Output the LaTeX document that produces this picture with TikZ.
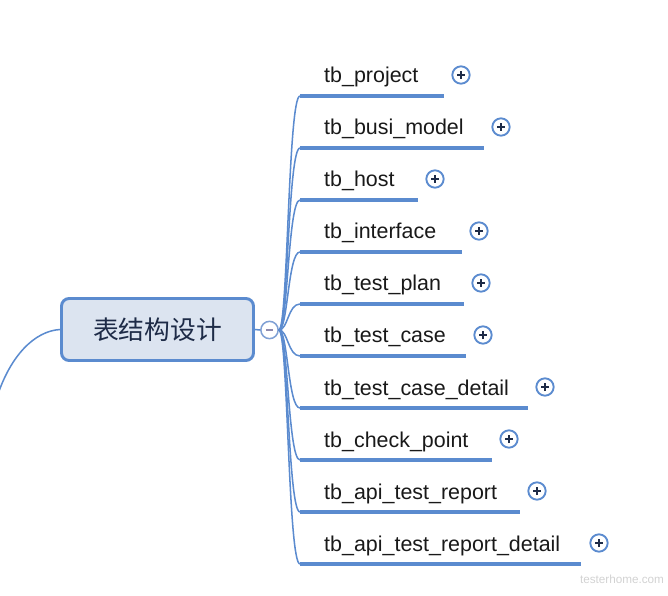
\documentclass[tikz,border=0pt]{standalone}
\usepackage{fontspec}
\setmainfont{Liberation Sans}
\newfontfamily\cjk{Noto Sans CJK SC}
\definecolor{mapblue}{HTML}{5B8BCF}
\definecolor{rootfill}{HTML}{DCE4F0}
\definecolor{navy}{HTML}{1E2B47}
\definecolor{foldblue}{HTML}{7FA0D4}
\definecolor{foldmark}{HTML}{8E8AAE}
\begin{document}
\begin{tikzpicture}[x=0.03cm, y=-0.03cm,
    root/.style={draw=mapblue, line width=2.5pt, rounded corners=2.3mm, fill=rootfill, minimum width=5.76cm, minimum height=1.86cm, inner sep=0pt, font=\cjk\fontsize{22}{24}\selectfont, text=navy},
    item/.style={font=\fontsize{18.3}{20}\selectfont, text=black!90, inner sep=0pt},
    bar/.style={mapblue, line width=3.4pt},
    branch/.style={mapblue, line width=1.3pt},
    plus/.style={circle, draw=mapblue, line width=1.6pt, fill=white, minimum size=0.52cm, inner sep=0pt,
      path picture={\draw[navy, line width=1.5pt] ([xshift=-1.2mm]path picture bounding box.center) -- ([xshift=1.2mm]path picture bounding box.center);
                    \draw[navy, line width=1.5pt] ([yshift=-1.2mm]path picture bounding box.center) -- ([yshift=1.2mm]path picture bounding box.center);}},
    fold/.style={circle, draw=foldblue, line width=1.3pt, fill=white, minimum size=0.52cm, inner sep=0pt,
      path picture={\draw[foldmark, line width=1.6pt] ([xshift=-1.1mm]path picture bounding box.center) -- ([xshift=1.1mm]path picture bounding box.center);}}]
    \useasboundingbox (0,0) rectangle (668,596);
    % central topic
    \node[root] (root) at (157.5,329.5) {表结构设计};
    \coordinate (parent) at (-4,400);
    \draw[branch] (root.west) .. controls (35,331) and (10,355) .. (parent);
    \node[fold] (fold) at (269.5,330) {};
    \draw[branch] (root.east) -- (fold.west);
    % tables
    \foreach \i/\name/\y/\xend/\xp in {
        1/tb\_project/96/444/461,
        2/tb\_busi\_model/148/484/501,
        3/tb\_host/200/418/435,
        4/tb\_interface/252/462/479,
        5/tb\_test\_plan/304/464/481,
        6/tb\_test\_case/356/466/483,
        7/tb\_test\_case\_detail/408/528/545,
        8/tb\_check\_point/460/492/509,
        9/tb\_api\_test\_report/512/520/537,
        10/tb\_api\_test\_report\_detail/564/581/599} {
      \coordinate (b\i) at (300,\y);
      \coordinate (e\i) at (\xend,\y);
      \node[item, anchor=base west] (t\i) at (324,\y-13) {\name};
      \node[plus] (p\i) at (\xp,\y-21) {};
      \draw[bar] (b\i) -- (e\i);
      \draw[branch] (fold.east) .. controls +(9,0) and +(-12,0) .. (b\i);
    }
    % watermark
    \node[font=\fontsize{10}{12}\selectfont, text=gray!35, inner sep=0pt] (mark) at (622,579) {testerhome.com};
\end{tikzpicture}
\end{document}
